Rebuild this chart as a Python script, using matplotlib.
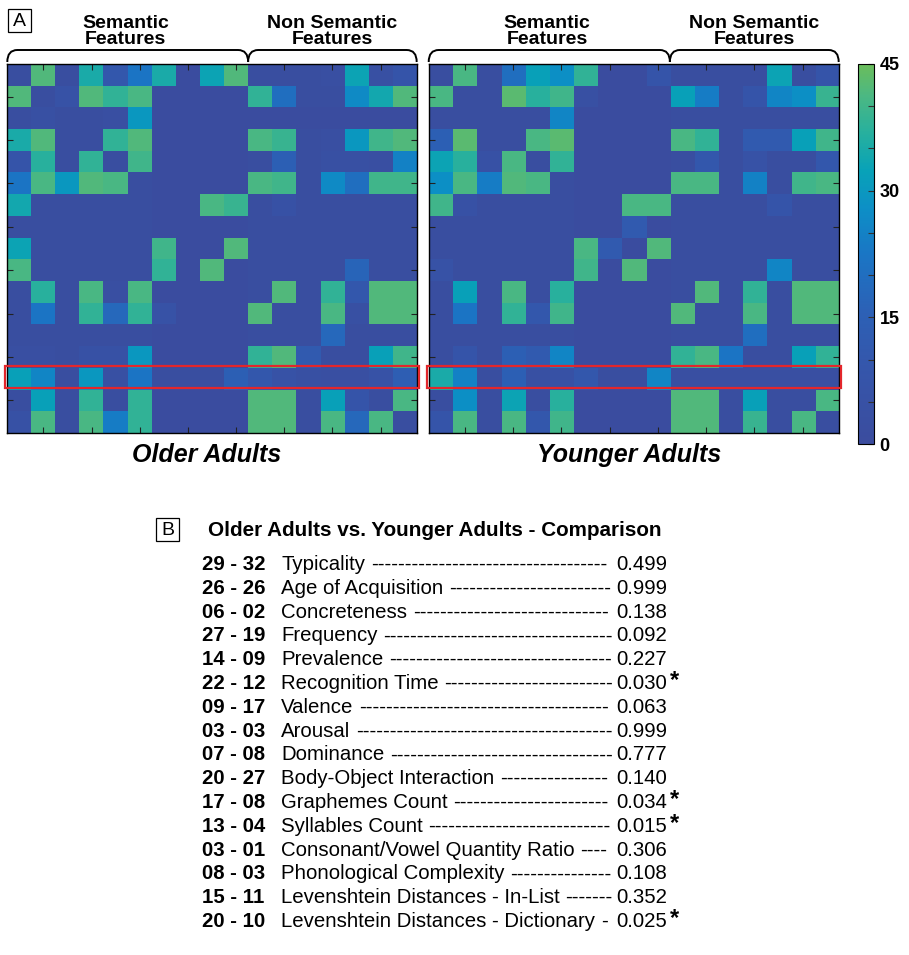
import numpy as np
import matplotlib
matplotlib.use("Agg")
import matplotlib.pyplot as plt
from matplotlib.colors import LinearSegmentedColormap
from matplotlib.patches import Rectangle, PathPatch
from matplotlib.path import Path
from matplotlib.ticker import MultipleLocator

plt.rcParams['font.family'] = ['Liberation Sans', 'DejaVu Sans']

# ---- co-occurrence counts (17 x 17) ----
older_adults = np.array([
    [2, 42, 2, 35, 10, 22, 35, 1, 33, 42, 2, 2, 2, 3, 33, 4, 8],
    [42, 2, 6, 42, 38, 41, 1, 1, 1, 1, 38, 20, 2, 2, 27, 34, 42],
    [2, 4, 2, 2, 3, 30, 1, 1, 1, 1, 1, 1, 1, 1, 1, 1, 1],
    [35, 42, 2, 2, 38, 42, 1, 1, 1, 1, 41, 39, 2, 3, 30, 40, 42],
    [8, 37, 2, 38, 2, 40, 1, 1, 1, 1, 2, 15, 2, 4, 4, 3, 25],
    [22, 41, 30, 42, 41, 2, 1, 1, 1, 1, 41, 40, 2, 27, 20, 40, 40],
    [34, 2, 2, 2, 2, 2, 1, 1, 41, 39, 2, 5, 2, 2, 2, 2, 2],
    [2, 2, 2, 2, 2, 2, 1, 1, 1, 1, 2, 2, 2, 2, 2, 2, 2],
    [33, 2, 2, 2, 2, 2, 40, 1, 1, 42, 2, 2, 2, 2, 2, 2, 2],
    [41, 2, 2, 2, 2, 2, 38, 1, 42, 1, 2, 2, 2, 2, 17, 2, 2],
    [2, 37, 2, 41, 3, 41, 1, 1, 1, 1, 2, 42, 2, 38, 10, 42, 42],
    [2, 22, 2, 38, 18, 38, 6, 1, 1, 1, 42, 2, 2, 41, 4, 42, 42],
    [2, 2, 2, 2, 2, 2, 1, 1, 1, 1, 2, 2, 2, 18, 2, 2, 2],
    [3, 3, 2, 5, 5, 30, 1, 1, 1, 1, 38, 42, 12, 2, 2, 32, 40],
    [32, 26, 2, 30, 4, 22, 2, 2, 2, 15, 10, 6, 4, 3, 3, 6, 14],
    [2, 32, 2, 38, 2, 38, 1, 1, 1, 1, 42, 42, 2, 32, 8, 2, 41],
    [5, 41, 2, 41, 24, 38, 1, 1, 1, 1, 42, 42, 2, 41, 18, 41, 2],
])

younger_adults = np.array([
    [2, 41, 2, 20, 32, 28, 38, 1, 1, 8, 2, 2, 2, 2, 33, 2, 8],
    [41, 2, 2, 43, 37, 40, 4, 1, 1, 1, 32, 24, 2, 8, 26, 28, 39],
    [2, 2, 2, 2, 2, 26, 1, 1, 1, 1, 2, 2, 2, 2, 2, 2, 2],
    [15, 43, 2, 2, 41, 43, 1, 1, 1, 1, 41, 38, 2, 12, 12, 32, 40],
    [33, 37, 5, 41, 2, 38, 1, 1, 1, 1, 2, 10, 2, 6, 2, 2, 10],
    [28, 41, 24, 42, 41, 2, 1, 1, 1, 1, 41, 41, 2, 25, 2, 40, 41],
    [40, 5, 2, 2, 2, 2, 1, 1, 41, 41, 2, 2, 2, 2, 8, 2, 2],
    [2, 2, 2, 2, 2, 2, 1, 1, 12, 1, 2, 2, 2, 2, 2, 2, 2],
    [2, 2, 2, 2, 2, 2, 41, 12, 1, 42, 2, 2, 2, 2, 2, 2, 2],
    [6, 2, 2, 2, 2, 2, 40, 1, 42, 1, 2, 2, 2, 2, 26, 2, 2],
    [2, 32, 2, 41, 2, 37, 1, 1, 1, 1, 2, 42, 2, 38, 2, 42, 42],
    [2, 22, 2, 38, 10, 40, 1, 1, 1, 1, 42, 2, 2, 41, 2, 42, 42],
    [2, 2, 2, 2, 2, 2, 1, 1, 1, 1, 2, 2, 2, 20, 2, 2, 2],
    [2, 8, 2, 15, 12, 26, 1, 1, 1, 1, 38, 41, 22, 2, 2, 32, 38],
    [35, 25, 2, 15, 4, 5, 10, 2, 2, 26, 3, 3, 3, 3, 3, 3, 3],
    [2, 28, 2, 33, 2, 37, 1, 1, 1, 1, 42, 42, 2, 32, 2, 2, 41],
    [8, 41, 2, 41, 10, 40, 1, 1, 1, 1, 42, 42, 2, 39, 2, 41, 2],
])

panel_titles = ["Older Adults", "Younger Adults"]
n_semantic_cols = 10
highlight_row = 14
cbar_ticks = [0, 15, 30, 45]

# ---- group comparison ----
features = [
    "Typicality", "Age of Acquisition", "Concreteness", "Frequency",
    "Prevalence", "Recognition Time", "Valence", "Arousal", "Dominance",
    "Body-Object Interaction", "Graphemes Count", "Syllables Count",
    "Consonant/Vowel Quantity Ratio", "Phonological Complexity",
    "Levenshtein Distances - In-List", "Levenshtein Distances - Dictionary",
]
older_counts = [29, 26, 6, 27, 14, 22, 9, 3, 7, 20, 17, 13, 3, 8, 15, 20]
younger_counts = [32, 26, 2, 19, 9, 12, 17, 3, 8, 27, 8, 4, 1, 3, 11, 10]
p_values = [0.499, 0.999, 0.138, 0.092, 0.227, 0.030, 0.063, 0.999,
            0.777, 0.140, 0.034, 0.015, 0.306, 0.108, 0.352, 0.025]

W, H = 909, 955
fig = plt.figure(figsize=(W / 100, H / 100), dpi=100)
fig.patch.set_facecolor("white")


def rect(x0, y0, x1, y1):
    """Pixel box with top-left origin -> figure-fraction axes rect."""
    return [x0 / W, 1 - y1 / H, (x1 - x0) / W, (y1 - y0) / H]


cmap = LinearSegmentedColormap.from_list("bluegreen", [
    (0.00, "#3b4c9e"), (0.20, "#3556ab"), (0.35, "#2c61b6"),
    (0.50, "#1a76c5"), (0.62, "#0d8fc6"), (0.72, "#08a2b8"),
    (0.82, "#27b09e"), (0.92, "#4cb882"), (1.00, "#6bbd5b")])

boxes = [(7.3, 64.3, 416.7, 432.7), (428.7, 64.3, 838.7, 432.7)]
ncols = older_adults.shape[1]
for data, box in zip([older_adults, younger_adults], boxes):
    ax = fig.add_axes(rect(*box))
    im = ax.imshow(data, cmap=cmap, vmin=0, vmax=45, aspect="auto",
                   interpolation="nearest")
    ax.set_xticks(np.arange(1, ncols - 1, 2))
    ax.set_yticks(np.arange(1, data.shape[0] - 1, 2))
    ax.tick_params(direction="in", length=4, width=0.8, color="#222222",
                   top=True, right=True, labelbottom=False, labelleft=False)
    for s in ax.spines.values():
        s.set_linewidth(1.0)
    ax.add_patch(Rectangle((-0.58, highlight_row - 0.58), ncols + 0.16, 1.02,
                           fill=False, ec="#e3262b", lw=1.6, clip_on=False,
                           zorder=5))

cax = fig.add_axes(rect(858, 64, 874, 444))
cb = fig.colorbar(im, cax=cax, ticks=cbar_ticks)
cb.outline.set_linewidth(0.8)
cax.yaxis.set_minor_locator(MultipleLocator(5))
cax.tick_params(which="both", direction="in", length=4, width=0.8,
                color="#333333", labelsize=13, pad=4)
for lbl in cax.get_yticklabels():
    lbl.set_fontweight("bold")

# ---- overlay for annotations (pixel coordinates) ----
ov = fig.add_axes([0, 0, 1, 1], zorder=10)
ov.set_xlim(0, W)
ov.set_ylim(H, 0)
ov.axis("off")
ov.patch.set_alpha(0)


def bracket(x0, x1, ytop=50, ybot=62, r=10):
    verts = [(x0, ybot), (x0, ytop), (x0 + r, ytop), (x1 - r, ytop),
             (x1, ytop), (x1, ybot)]
    codes = [Path.MOVETO, Path.CURVE3, Path.CURVE3, Path.LINETO,
             Path.CURVE3, Path.CURVE3]
    ov.add_patch(PathPatch(Path(verts, codes), fill=False, lw=1.4,
                           ec="black"))


for (x0, y0, x1, y1), title in zip(boxes, panel_titles):
    xmid = x0 + (x1 - x0) * n_semantic_cols / ncols
    bracket(x0, xmid)
    bracket(xmid, x1)
    ov.text((x0 + xmid) / 2 - 2, 31.5, "Semantic\nFeatures", fontsize=14,
            fontweight="bold", ha="center", va="center", linespacing=0.9)
    ov.text((xmid + x1) / 2, 31.5, "Non Semantic\nFeatures", fontsize=14,
            fontweight="bold", ha="center", va="center", linespacing=0.9)
    ov.text((x0 + x1) / 2 - 5, 455, title, fontsize=18, fontweight="bold",
            fontstyle="italic", ha="center", va="center")

# panel letters
for (bx, by, bs), letter in [((8, 9, 23), "A"), ((156, 518, 23), "B")]:
    ov.add_patch(Rectangle((bx, by), bs, bs, fill=False, lw=0.9, ec="black"))
    ov.text(bx + bs / 2, by + bs / 2 + 0.5, letter, fontsize=14,
            ha="center", va="center")

ov.text(208, 536, "Older Adults vs. Younger Adults - Comparison",
        fontsize=14.9, fontweight="bold", ha="left", va="baseline")

fs = 14.7
renderer = fig.canvas.get_renderer()
probe = ov.text(0, 0, "-" * 40, fontsize=fs)
hyphen_w = probe.get_window_extent(renderer).width / 40
probe.remove()
space_w = 0.278 * fs * 100 / 72

for i, (name, o, y, p) in enumerate(zip(features, older_counts,
                                         younger_counts, p_values)):
    base = 570 + i * 23.8
    ov.text(202, base, f"{o:02d} - {y:02d}", fontsize=fs, fontweight="bold",
            ha="left", va="baseline")
    lab = ov.text(281, base, name, fontsize=fs, ha="left", va="baseline")
    val = ov.text(667, base, f"{p:.3f}", fontsize=fs, ha="right",
                  va="baseline")
    lx1 = lab.get_window_extent(renderer).x1
    vx0 = val.get_window_extent(renderer).x0
    start = lx1 + space_w
    n = max(1, int((vx0 - 2.5 - start) / hyphen_w))
    ov.text(start, base, "-" * n, fontsize=fs, ha="left", va="baseline")
    if p < 0.05:
        ov.text(670, base - 2, "*", fontsize=17, fontweight="bold",
                ha="left", va="baseline")

fig.savefig("out.png", dpi=100, facecolor="white")
